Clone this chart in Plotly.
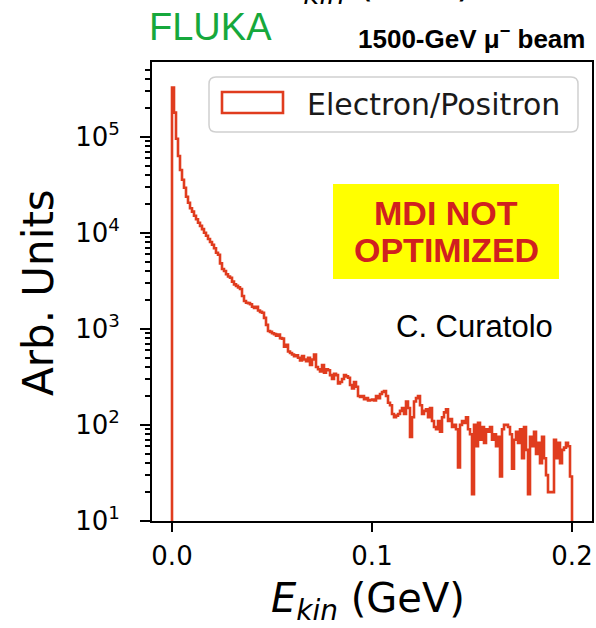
import numpy as np
import plotly.graph_objects as go

# ---------------- data ----------------
bin_width = 0.001          # GeV
n_bins = 200
counts = [324000, 178000, 95000, 63000, 45000, 35600, 29400, 23700, 20500, 18000,
          16600, 15000, 13800, 12700, 11800, 10900, 10000, 9300, 8600, 8000,
          7500, 6900, 6200, 5900, 4800, 4200, 4000, 3700, 3500, 3400,
          3100, 2900, 2800, 2700, 2600, 2200, 1950, 1870, 1850, 1800,
          1700, 1650, 1700, 1550, 1500, 1470, 1300, 1100, 950, 930,
          900, 880, 850, 870, 800, 790, 650, 680, 580, 560,
          540, 520, 530, 500, 470, 520, 480, 460, 500, 420,
          480, 540, 400, 380, 360, 420, 350, 380, 370, 330,
          300, 340, 330, 270, 280, 300, 330, 320, 310, 260,
          240, 280, 250, 200, 195, 200, 185, 190, 180, 182,
          184, 180, 200, 190, 210, 220, 225, 200, 170, 160,
          130, 120, 125, 130, 140, 150, 130, 175, 150, 75,
          120, 175, 190, 200, 160, 130, 140, 145, 120, 150,
          110, 95, 90, 110, 85, 120, 135, 145, 110, 115,
          95, 100, 90, 36, 100, 110, 105, 120, 90, 80,
          19, 100, 60, 105, 70, 95, 65, 90, 85, 95,
          70, 80, 60, 75, 29, 90, 100, 100, 95, 80,
          35, 70, 85, 65, 90, 45, 95, 55, 19, 75,
          60, 85, 50, 65, 40, 75, 45, 30, 20, 20,
          20, 70, 45, 65, 40, 55, 58, 65, 60, 29]
series_name = "Electron/Positron"
x_ticks = [0.0, 0.1, 0.2]
x_tick_labels = ["0.0", "0.1", "0.2"]
y_ticks = [1e1, 1e2, 1e3, 1e4, 1e5]
y_tick_labels = ["10<sup>1</sup>", "10<sup>2</sup>", "10<sup>3</sup>", "10<sup>4</sup>", "10<sup>5</sup>"]

edges = np.arange(n_bins + 1) * bin_width
# step outline (matplotlib histtype='step'), baseline below the log range
xs = [edges[0]] + list(edges[:-1]) + [edges[-1], edges[-1]]
ys = [1] + list(counts) + [counts[-1], 1]

RED = "#e03c1e"

# plot-area pixel geometry
L, R, T, B = 152, 592, 62, 521
W, H = 596, 628
def px(x):
    return (x - L) / (R - L)
def py(y):
    return (B - y) / (B - T)

fig = go.Figure()
fig.add_trace(go.Scatter(x=xs, y=ys, mode="lines", line=dict(color=RED, width=2.6, shape="hv"),
                         name=series_name, showlegend=False, hoverinfo="skip"))

fig.update_layout(
    width=W, height=H,
    margin=dict(l=L, r=W - R, t=T, b=H - B, pad=0),
    paper_bgcolor="white", plot_bgcolor="white",
    font=dict(family="DejaVu Sans", color="black"),
    xaxis=dict(range=[-0.01, 0.21], tickvals=x_ticks, ticktext=x_tick_labels, automargin=False,
               ticks="outside", ticklen=9, tickwidth=2, tickcolor="black", ticklabelstandoff=2,
               showline=True, linewidth=2, linecolor="black", mirror=True,
               showgrid=False, zeroline=False, tickfont=dict(size=26, family="DejaVu Sans")),
    yaxis=dict(type="log", range=[1, 5.777], tickvals=y_ticks, ticktext=y_tick_labels, automargin=False,
               ticks="outside", ticklen=10, tickwidth=2, tickcolor="black", ticklabelstandoff=15,
               showline=True, linewidth=2, linecolor="black", mirror=True,
               showgrid=False, zeroline=False, tickfont=dict(size=26, family="DejaVu Sans")),
)
fig.update_yaxes(minor=dict(ticks="outside", ticklen=5, tickwidth=1.5, tickcolor="black",
                            dtick="D1", showgrid=False))

shapes = []
# legend frame (rounded)
x0, x1, y0, y1, r = 209, 578, 77, 132, 7
def P(x, y):
    return f"{px(x):.5f},{py(y):.5f}"
path = (f"M {P(x0 + r, y0)} L {P(x1 - r, y0)} Q {P(x1, y0)} {P(x1, y0 + r)} "
        f"L {P(x1, y1 - r)} Q {P(x1, y1)} {P(x1 - r, y1)} L {P(x0 + r, y1)} "
        f"Q {P(x0, y1)} {P(x0, y1 - r)} L {P(x0, y0 + r)} Q {P(x0, y0)} {P(x0 + r, y0)} Z")
shapes.append(dict(type="path", xref="paper", yref="paper", path=path,
                   line=dict(color="#d0d0d0", width=1.5), fillcolor="rgba(255,255,255,0.8)"))
# legend patch
shapes.append(dict(type="rect", xref="paper", yref="paper", x0=px(222), x1=px(283), y0=py(113), y1=py(92),
                   line=dict(color=RED, width=2.6), fillcolor="rgba(0,0,0,0)"))
# yellow box
shapes.append(dict(type="rect", xref="paper", yref="paper", x0=px(333), x1=px(559), y0=py(279), y1=py(184),
                   line=dict(width=0), fillcolor="#ffff00", layer="below"))
fig.update_layout(shapes=shapes)

ann = []
def A(text, x, y, size, family="DejaVu Sans", color="black", xanchor="center", yanchor="middle", angle=0):
    ann.append(dict(text=text, x=px(x), y=py(y), xref="paper", yref="paper", showarrow=False,
                    xanchor=xanchor, yanchor=yanchor, textangle=angle,
                    font=dict(size=size, family=family, color=color)))

A(series_name, 305, 104, 30, color="#1a1a1a", xanchor="left")
A("<b>MDI NOT</b>", 446, 213, 34, family="Liberation Sans", color="#d02020")
A("<b>OPTIMIZED</b>", 446, 250, 34, family="Liberation Sans", color="#d02020")
A("C. Curatolo", 474, 326, 31, family="Liberation Sans")
A("FLUKA", 210, 27, 38, family="Liberation Sans", color="#16a83c")
A("<b>1500-GeV μ<sup>−</sup> beam</b>", 471, 38, 26, family="Liberation Sans")
A("<i>E</i><sub><i>kin</i></sub> (GeV)", 368, 601, 40)
A("<i>E</i><sub><i>kin</i></sub> (GeV)", 375, -15, 40)
A("Arb. Units", 38, 293, 42, angle=-90)
fig.update_layout(annotations=ann)

fig.write_html("out.html", config={"displayModeBar": False},
               post_script="document.body.style.margin='0';document.body.style.padding='0';")
